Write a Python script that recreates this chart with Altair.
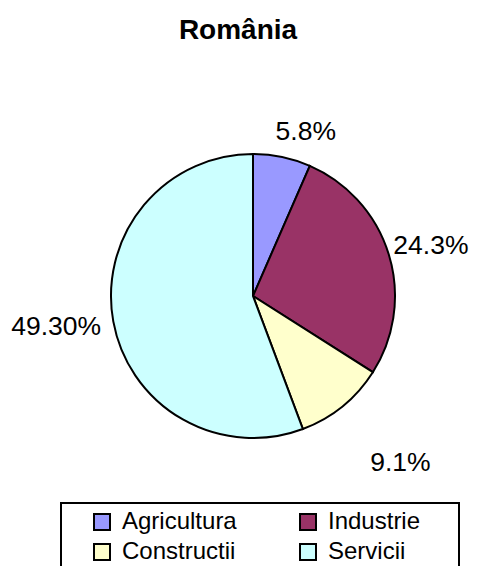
import altair as alt
import pandas as pd

categories = ["Agricultura", "Industrie", "Constructii", "Servicii"]
values = [5.8, 24.3, 9.1, 49.30]
labels = ["5.8%", "24.3%", "9.1%", "49.30%"]
colors = ["#9999FF", "#993366", "#FFFFCC", "#CCFFFF"]
legend_order = ["Agricultura", "Constructii", "Industrie", "Servicii"]

df = pd.DataFrame({
    "cat": categories,
    "value": values,
    "label": labels,
    "idx": list(range(len(categories))),
})

FONT = "Liberation Sans"
CX, CY = 245, 288

base = alt.Chart(df).encode(
    theta=alt.Theta("value:Q", stack=True),
    order=alt.Order("idx:Q"),
)

pie = base.mark_arc(outerRadius=142, stroke="black", strokeWidth=2).encode(
    x=alt.value(CX),
    y=alt.value(CY),
    color=alt.Color(
        "cat:N",
        scale=alt.Scale(domain=categories, range=colors),
        legend=alt.Legend(
            title=None,
            values=legend_order,
            orient="none",
            legendX=82,
            legendY=502,
            columns=2,
            columnPadding=59,
            rowPadding=6,
            symbolType="square",
            symbolSize=256,
            symbolStrokeColor="black",
            symbolStrokeWidth=2,
            symbolOffset=0,
            labelOffset=8,
            labelFont=FONT,
            labelFontSize=24,
            labelColor="black",
            padding=0,
            labelLimit=300,
        ),
    ),
)

# per-label placement (styling): radius, dx, dy
place = {
    "Agricultura": (170, 18, 2),
    "Industrie": (185, 1, 4),
    "Constructii": (215, 12, 0),
    "Servicii": (197, -3, -4),
}

text_layers = []
for c in categories:
    r, dx, dy = place[c]
    t = base.mark_text(
        radius=r, dx=dx, dy=dy, font=FONT, fontSize=26.5, color="black",
        align="center", baseline="middle",
    ).encode(
        x=alt.value(CX),
        y=alt.value(CY),
        text=alt.condition(alt.datum.cat == c, "label:N", alt.value("")),
    )
    text_layers.append(t)

title = alt.Chart(pd.DataFrame({"t": ["România"]})).mark_text(
    font=FONT, fontSize=28, fontWeight="bold", color="black",
    align="center", baseline="middle",
).encode(x=alt.value(230), y=alt.value(23), text="t:N")

box = alt.Chart(pd.DataFrame({"a": [0]})).mark_rect(
    fill=None, stroke="black", strokeWidth=2
).encode(x=alt.value(53), x2=alt.value(451), y=alt.value(495), y2=alt.value(600))

chart = alt.layer(pie, *text_layers, title, box).properties(
    width=462, height=558,
    autosize=alt.AutoSizeParams(type="none"),
    padding=0,
).configure_view(stroke=None)

chart.save("out.html", embed_options={"renderer": "svg", "actions": False})
